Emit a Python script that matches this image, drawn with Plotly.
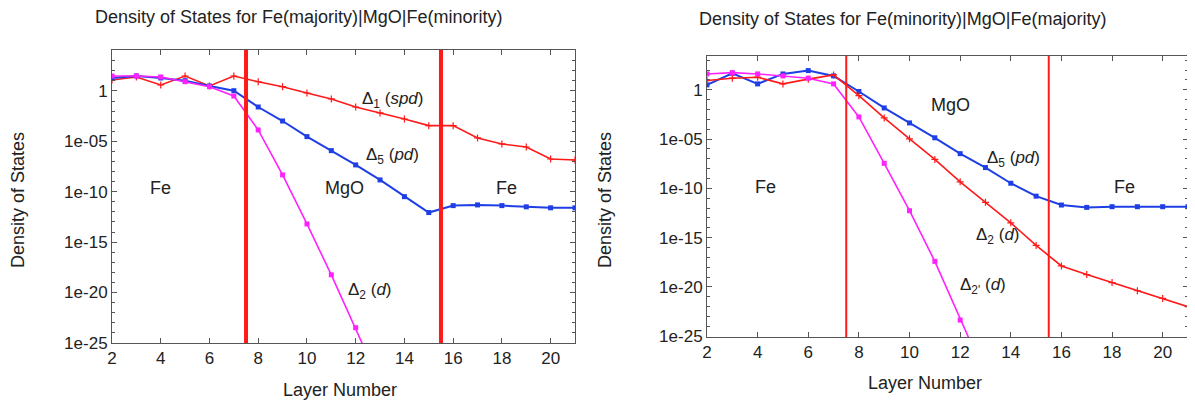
import plotly.graph_objects as go

# ---------------- data (log10 of density of states) ----------------
layers = list(range(2, 22))

# Left panel: Fe(majority)|MgO|Fe(minority)
left_d1_spd = [1.09, 1.39, 0.60, 1.49, 0.50, 1.49, 0.92, 0.43, -0.20, -0.79,
               -1.59, -2.18, -2.78, -3.44, -3.44, -4.66, -5.26, -5.56, -6.75, -6.85]
left_d5_pd = [1.29, 1.49, 1.29, 1.02, 0.50, 0.03, -1.59, -2.98, -4.53, -5.92,
              -7.34, -8.83, -10.49, -12.07, -11.38, -11.31, -11.38, -11.50, -11.60, -11.60]
left_d2_layers = list(range(2, 14))
left_d2_d = [1.49, 1.49, 1.39, 0.92, 0.43, -0.50, -3.87, -8.33, -13.20, -18.25, -23.50, -29.0]

# Right panel: Fe(minority)|MgO|Fe(majority)
right_d5_pd = [0.50, 1.68, 0.60, 1.61, 1.95, 1.41, -0.17, -1.84, -3.36, -4.87,
               -6.48, -7.89, -9.48, -10.79, -11.69, -11.93, -11.86, -11.86, -11.86, -11.86]
right_d2_d = [0.94, 1.18, 1.28, 0.60, 1.08, 1.51, -0.60, -2.85, -4.97, -7.06,
              -9.34, -11.42, -13.50, -15.79, -17.87, -18.75, -19.56, -20.39, -21.17, -22.00]
right_d2p_layers = list(range(2, 14))
right_d2p_d = [1.61, 1.74, 1.61, 1.41, 1.18, 0.60, -2.75, -7.46, -12.27, -17.41, -23.36, -29.0]

interfaces = [7.5, 15.5]
x_ticks = [2, 4, 6, 8, 10, 12, 14, 16, 18, 20]
y_tick_exps = [-25, -20, -15, -10, -5, 0]
y_tick_text = ["1e-25", "1e-20", "1e-15", "1e-10", "1e-05", "1"]

titles = ["Density of States for Fe(majority)|MgO|Fe(minority)",
          "Density of States for Fe(minority)|MgO|Fe(majority)"]

RED = "#ff1a1a"
BLUE = "#1f3fe6"
MAG = "#ff22ff"
FONT = "Liberation Sans, Arial, sans-serif"
TXT = "#222222"

# page body has an 8px margin: the figure is drawn from (8, 8)
OFF = 8
W, H = 1195 - OFF, 403 - OFF

def PX(px):
    return (px - OFF) / W

def PY(py):
    return 1 - (py - OFF) / H

def pw(vals):
    return [10 ** v for v in vals]

fig = go.Figure()

# left traces
fig.add_trace(go.Scatter(x=layers, y=pw(left_d1_spd), mode="lines+markers",
                         line=dict(color=RED, width=1.6),
                         marker=dict(symbol="cross-thin", size=5, line=dict(color=RED, width=1.2)),
                         xaxis="x", yaxis="y", showlegend=False))
fig.add_trace(go.Scatter(x=layers, y=pw(left_d5_pd), mode="lines+markers",
                         line=dict(color=BLUE, width=2),
                         marker=dict(symbol="square", size=5, color=BLUE),
                         xaxis="x", yaxis="y", showlegend=False))
fig.add_trace(go.Scatter(x=left_d2_layers, y=pw(left_d2_d), mode="lines+markers",
                         line=dict(color=MAG, width=1.6),
                         marker=dict(symbol="square", size=5, color=MAG),
                         xaxis="x", yaxis="y", showlegend=False))

# right traces
fig.add_trace(go.Scatter(x=layers, y=pw(right_d5_pd), mode="lines+markers",
                         line=dict(color=BLUE, width=2),
                         marker=dict(symbol="square", size=5, color=BLUE),
                         xaxis="x2", yaxis="y2", showlegend=False))
fig.add_trace(go.Scatter(x=layers, y=pw(right_d2_d), mode="lines+markers",
                         line=dict(color=RED, width=1.6),
                         marker=dict(symbol="cross-thin", size=5, line=dict(color=RED, width=1.2)),
                         xaxis="x2", yaxis="y2", showlegend=False))
fig.add_trace(go.Scatter(x=right_d2p_layers, y=pw(right_d2p_d), mode="lines+markers",
                         line=dict(color=MAG, width=1.6),
                         marker=dict(symbol="square", size=5, color=MAG),
                         xaxis="x2", yaxis="y2", showlegend=False))

# interface lines
for xv in interfaces:
    fig.add_shape(type="line", x0=xv, x1=xv, y0=0, y1=1, xref="x", yref="y domain",
                  line=dict(color=RED, width=4))
    fig.add_shape(type="line", x0=xv, x1=xv, y0=0, y1=1, xref="x2", yref="y2 domain",
                  line=dict(color=RED, width=2))

axis_common = dict(showline=True, linecolor="#555555", linewidth=1, mirror="ticks",
                   ticks="inside", ticklen=5, tickcolor="#555555", showgrid=False,
                   zeroline=False, automargin=False,
                   tickfont=dict(family=FONT, size=17, color=TXT))

xa = dict(axis_common, range=[2, 21], tickvals=x_ticks)
ya = dict(axis_common, type="log", tickvals=[10 ** e for e in y_tick_exps],
          ticktext=y_tick_text,
          minor=dict(tickvals=[10 ** k for k in range(-25, 4)], ticks="inside",
                     ticklen=3, tickcolor="#555555"))

fig.update_layout(
    width=W, height=H, autosize=False,
    margin=dict(l=0, r=0, t=0, b=0, pad=0),
    paper_bgcolor="white", plot_bgcolor="white",
    xaxis=dict(xa, domain=[PX(112), PX(575)], anchor="y"),
    yaxis=dict(ya, domain=[PY(343), PY(50)], range=[-25.02, 4.07], anchor="x"),
    xaxis2=dict(xa, domain=[PX(707), PX(1188)], anchor="y2"),
    yaxis2=dict(ya, domain=[PY(337), PY(56)], range=[-25.08, 3.43], anchor="x2"),
)

anns = []

def txt(text, x, y, xr="paper", yr="paper", size=18, angle=0):
    anns.append(dict(text=text, x=x, y=y, xref=xr, yref=yr, showarrow=False,
                     xanchor="center", yanchor="middle", textangle=angle,
                     font=dict(family=FONT, size=size, color=TXT)))

# titles
txt(titles[0], PX(298), PY(17), size=18)
txt(titles[1], PX(902), PY(19), size=18)
# axis titles
for xc, yc in [(18, 200), (605, 200)]:
    txt("Density of States", PX(xc), PY(yc), size=18, angle=-90)
for xc, yc in [(340, 390), (925, 383)]:
    txt("Layer Number", PX(xc), PY(yc), size=18)

# region labels
txt("Fe", 4.0, -9.6, "x", "y")
txt("MgO", 11.55, -9.6, "x", "y")
txt("Fe", 18.2, -9.6, "x", "y")
txt("Δ<sub>1</sub> (<i>spd</i>)", 13.5, -0.9, "x", "y", 17)
txt("Δ<sub>5</sub> (<i>pd</i>)", 13.5, -6.5, "x", "y", 17)
txt("Δ<sub>2</sub> (<i>d</i>)", 12.6, -19.9, "x", "y", 17)

txt("Fe", 4.3, -9.9, "x2", "y2")
txt("MgO", 11.6, -1.5, "x2", "y2")
txt("Fe", 18.5, -9.9, "x2", "y2")
txt("Δ<sub>5</sub> (<i>pd</i>)", 14.1, -7.0, "x2", "y2", 17)
txt("Δ<sub>2</sub> (<i>d</i>)", 13.5, -14.8, "x2", "y2", 17)
txt("Δ<sub>2'</sub> (<i>d</i>)", 12.9, -19.9, "x2", "y2", 17)

fig.update_layout(annotations=anns)
fig.write_html("out.html")
